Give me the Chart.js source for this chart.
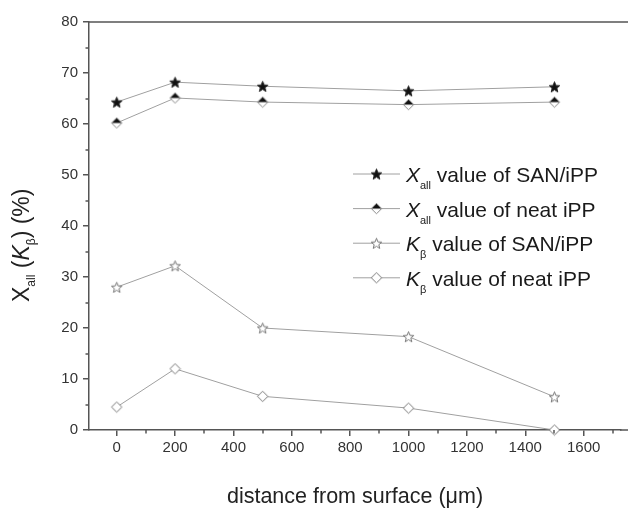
<!DOCTYPE html>
<html><head><meta charset="utf-8">
<script src="https://cdn.jsdelivr.net/npm/chart.js@4/dist/chart.umd.min.js"></script>
<style>html,body{margin:0;padding:0;background:#fff}</style>
</head><body>
<div style="width:628px;height:509px"><canvas id="c" width="628" height="509"></canvas></div>
<script>
// ---- data ----
const distances = [0, 200, 500, 1000, 1500];
const xallSAN  = [64.3, 68.2, 67.4, 66.5, 67.3];
const xallNeat = [60.2, 65.1, 64.3, 63.8, 64.3];
const kbSAN    = [28.0, 32.2, 20.0, 18.3, 6.5];
const kbNeat   = [4.5, 12.0, 6.6, 4.3, 0];
const xTicks = [0, 200, 400, 600, 800, 1000, 1200, 1400, 1600];
const yTicks = [0, 10, 20, 30, 40, 50, 60, 70, 80];
const xMinor = [-100, 100, 300, 500, 700, 900, 1100, 1300, 1500, 1700];
const yMinor = [5, 15, 25, 35, 45, 55, 65, 75];
const legendItems = [
  {sym: 'X', sub: 'all', rest: ' value of SAN/iPP'},
  {sym: 'X', sub: 'all', rest: ' value of neat iPP'},
  {sym: 'K', sub: 'β', rest: ' value of SAN/iPP'},
  {sym: 'K', sub: 'β', rest: ' value of neat iPP'}
];
const xTitle = 'distance from surface (μm)';

// ---- markers ----
function marker(kind) {
  const s = 13, c = document.createElement('canvas');
  c.width = s; c.height = s;
  const g = c.getContext('2d');
  const cx = s / 2, cy = s / 2;
  g.lineWidth = 1;
  if (kind.startsWith('star')) {
    g.beginPath();
    for (let i = 0; i < 10; i++) {
      const r = i % 2 === 0 ? 5.6 : 2.4;
      const a = -Math.PI / 2 + i * Math.PI / 5;
      const px = cx + r * Math.cos(a), py = cy + 0.6 + r * Math.sin(a);
      i === 0 ? g.moveTo(px, py) : g.lineTo(px, py);
    }
    g.closePath();
    if (kind === 'starFilled') { g.fillStyle = '#111'; g.fill(); g.strokeStyle = '#222'; g.stroke(); }
    else { g.fillStyle = '#fff'; g.fill(); g.strokeStyle = '#777'; g.stroke(); }
  } else {
    const r = 5.2;
    g.beginPath();
    g.moveTo(cx, cy - r); g.lineTo(cx + r, cy); g.lineTo(cx, cy + r); g.lineTo(cx - r, cy); g.closePath();
    g.fillStyle = '#fff'; g.fill();
    if (kind === 'diamondHalf') {
      g.beginPath();
      g.moveTo(cx, cy - r); g.lineTo(cx + r, cy); g.lineTo(cx - r, cy); g.closePath();
      g.fillStyle = '#111'; g.fill();
      g.beginPath();
      g.moveTo(cx, cy - r); g.lineTo(cx + r, cy); g.lineTo(cx, cy + r); g.lineTo(cx - r, cy); g.closePath();
      g.strokeStyle = '#888'; g.stroke();
    } else {
      g.strokeStyle = '#777'; g.stroke();
    }
  }
  return c;
}
const markers = [marker('starFilled'), marker('diamondHalf'), marker('starOpen'), marker('diamondOpen')];
const seriesValues = [xallSAN, xallNeat, kbSAN, kbNeat];

const datasets = seriesValues.map((vals, i) => ({
  label: legendItems[i].sym + legendItems[i].sub + legendItems[i].rest,
  data: distances.map((d, j) => ({x: d, y: vals[j]})),
  showLine: true,
  borderColor: '#a0a0a0',
  borderWidth: 1,
  pointStyle: markers[i],
  pointRadius: 6,
  clip: false
}));

const axisColor = '#555';
const tickFont = {family: 'Liberation Sans, Arial, sans-serif', size: 15};
const plain = v => String(v);

const decor = {
  id: 'decor',
  afterDraw(chart) {
    const ctx = chart.ctx, a = chart.chartArea;
    const xs = chart.scales.x, ys = chart.scales.y;
    ctx.save();
    // top frame line and x-axis continuation to the edge
    ctx.strokeStyle = axisColor; ctx.lineWidth = 1.5;
    ctx.beginPath(); ctx.moveTo(a.left, a.top); ctx.lineTo(chart.width, a.top); ctx.stroke();
    ctx.beginPath(); ctx.moveTo(a.right - 1, a.bottom); ctx.lineTo(chart.width, a.bottom); ctx.stroke();
    // minor ticks
    xMinor.forEach(v => {
      const px = Math.round(xs.getPixelForValue(v));
      if (px < a.left || px > a.right) return;
      ctx.beginPath(); ctx.moveTo(px, a.bottom); ctx.lineTo(px, a.bottom + 3.5); ctx.stroke();
    });
    yMinor.forEach(v => {
      const py = Math.round(ys.getPixelForValue(v));
      ctx.beginPath(); ctx.moveTo(a.left, py); ctx.lineTo(a.left - 3.5, py); ctx.stroke();
    });
    // x title
    ctx.fillStyle = '#222';
    ctx.font = '21.5px "Liberation Sans", Arial, sans-serif';
    ctx.textAlign = 'center'; ctx.textBaseline = 'middle';
    ctx.fillText(xTitle, 355, 497);
    // y title (rotated, with subscripts)
    ctx.save();
    ctx.translate(21, 0); ctx.rotate(-Math.PI / 2);
    const parts = [
      {t: 'X', f: '23px "Liberation Sans", Arial, sans-serif', dy: 0},
      {t: 'all', f: '12px "Liberation Sans", Arial, sans-serif', dy: 6},
      {t: ' (', f: '23px "Liberation Sans", Arial, sans-serif', dy: 0},
      {t: 'K', f: 'italic 23px "Liberation Sans", Arial, sans-serif', dy: 0},
      {t: 'β', f: '12px "Liberation Sans", Arial, sans-serif', dy: 6},
      {t: ') (%)', f: '23px "Liberation Sans", Arial, sans-serif', dy: 0}
    ];
    let pos = -302;
    ctx.textAlign = 'left'; ctx.textBaseline = 'alphabetic';
    parts.forEach(p => { ctx.font = p.f; ctx.fillText(p.t, pos, 8 + p.dy); pos += ctx.measureText(p.t).width; });
    ctx.restore();
    // legend
    const lx0 = a.left + 264, lx1 = a.left + 311, tx = a.left + 317;
    legendItems.forEach((it, i) => {
      const y = 174 + i * 34.6;
      ctx.strokeStyle = '#a0a0a0'; ctx.lineWidth = 1;
      ctx.beginPath(); ctx.moveTo(lx0, y); ctx.lineTo(lx1, y); ctx.stroke();
      const m = markers[i];
      ctx.drawImage(m, (lx0 + lx1) / 2 - m.width / 2, y - m.height / 2);
      ctx.fillStyle = '#1a1a1a'; ctx.textAlign = 'left'; ctx.textBaseline = 'alphabetic';
      let x = tx;
      ctx.font = 'italic 21px "Liberation Sans", Arial, sans-serif';
      ctx.fillText(it.sym, x, y + 8); x += ctx.measureText(it.sym).width;
      ctx.font = '11px "Liberation Sans", Arial, sans-serif';
      ctx.fillText(it.sub, x, y + 15); x += ctx.measureText(it.sub).width;
      ctx.font = '21px "Liberation Sans", Arial, sans-serif';
      ctx.fillText(it.rest, x, y + 8);
    });
    ctx.restore();
  }
};

new Chart(document.getElementById('c'), {
  type: 'scatter',
  data: {datasets},
  options: {
    responsive: false,
    animation: false,
    devicePixelRatio: 1,
    layout: {padding: {top: 22, right: 0, left: 0, bottom: 0}},
    plugins: {legend: {display: false}, tooltip: {enabled: false}},
    scales: {
      x: {
        type: 'linear', min: -95, max: 1728,
        afterBuildTicks: s => { s.ticks = xTicks.map(v => ({value: v})); },
        afterFit: s => { s.height = 79; },
        border: {display: true, color: axisColor, width: 1.5},
        grid: {display: true, drawOnChartArea: false, drawTicks: true, tickLength: 6, color: axisColor, lineWidth: 1.5},
        ticks: {color: '#333', font: tickFont, padding: 3, maxRotation: 0, autoSkip: false, callback: plain}
      },
      y: {
        type: 'linear', min: 0, max: 80,
        afterBuildTicks: s => { s.ticks = yTicks.map(v => ({value: v})); },
        afterFit: s => { s.width = 89; },
        border: {display: true, color: axisColor, width: 1.5},
        grid: {display: true, drawOnChartArea: false, drawTicks: true, tickLength: 6, color: axisColor, lineWidth: 1.5},
        ticks: {color: '#333', font: tickFont, padding: 5, autoSkip: false, callback: plain}
      }
    }
  },
  plugins: [decor]
});
</script>
</body></html>
